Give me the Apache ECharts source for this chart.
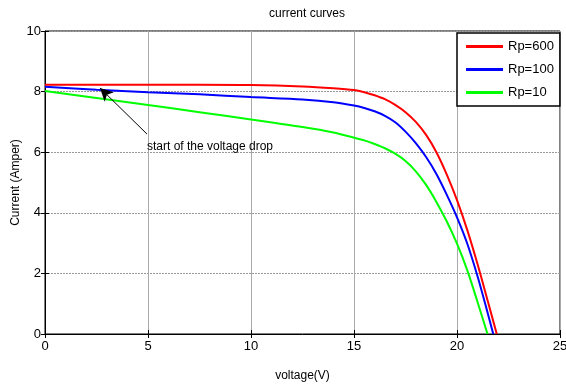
<!DOCTYPE html>
<html>
<head>
<meta charset="utf-8">
<script src="https://cdn.jsdelivr.net/npm/echarts@6/dist/echarts.min.js"></script>
<style>
  html, body { margin: 0; padding: 0; background: #fff; }
  #chart { width: 566px; height: 385px; }
</style>
</head>
<body>
<div id="chart"></div>
<script>
const vRed = [0, 2.5, 5, 7.5, 10, 12.5, 14, 15, 15.5, 16, 16.5, 17, 17.5, 18, 18.5, 19, 19.5, 20, 20.5, 21, 21.5, 21.93]
const iRed = [8.23, 8.23, 8.23, 8.23, 8.22, 8.17, 8.11, 8.05, 7.98, 7.88, 7.75, 7.56, 7.32, 7.0, 6.57, 6.0, 5.27, 4.42, 3.43, 2.3, 1.07, 0]

const vBlue = [0, 2.5, 5, 7.5, 10, 12.5, 14, 15, 15.5, 16, 16.5, 17, 17.5, 18, 18.5, 19, 19.5, 20, 20.5, 21, 21.4, 21.76]
const iBlue = [8.16, 8.06, 7.98, 7.91, 7.82, 7.74, 7.65, 7.54, 7.46, 7.35, 7.2, 6.99, 6.68, 6.3, 5.84, 5.28, 4.6, 3.85, 2.98, 1.9, 0.92, 0]

const vGreen = [0, 2.5, 5, 7.5, 10, 12.5, 14, 15, 15.5, 16, 16.5, 17, 17.5, 18, 18.5, 19, 19.5, 20, 20.5, 21, 21.48]
const iGreen = [8.02, 7.79, 7.56, 7.32, 7.08, 6.83, 6.65, 6.48, 6.39, 6.27, 6.13, 5.95, 5.71, 5.37, 4.92, 4.36, 3.72, 2.98, 2.1, 1.05, 0]

const seriesNames = ['Rp=600', 'Rp=100', 'Rp=10']
const arrowFrom = [4.95, 6.6]
const arrowTo = [2.67, 8.12]
const notePos = [4.95, 6.18]
const noteText = 'start of the voltage drop'

const font = 'Liberation Sans, Arial, sans-serif'

function pairs(xs, ys) {
  return xs.map((x, i) => [x, ys[i]])
}

const chart = echarts.init(document.getElementById('chart'))

const lineOpts = {
  type: 'line',
  showSymbol: false,
  smooth: 0.3,
  animation: false
}

const option = {
  backgroundColor: '#fff',
  textStyle: { fontFamily: font },
  title: {
    text: 'current curves',
    left: 302,
    textAlign: 'center',
    top: 3,
    textStyle: { fontSize: 12, fontWeight: 'normal', color: '#000', fontFamily: font }
  },
  grid: {
    left: 45, right: 6, top: 31, bottom: 51,
    containLabel: false,
    outerBoundsMode: 'none',
    show: true, borderColor: '#000', borderWidth: 1
  },
  legend: {
    orient: 'vertical',
    left: 457,
    top: 33,
    data: seriesNames,
    icon: 'rect',
    itemWidth: 37,
    itemHeight: 3,
    itemGap: 10,
    padding: [7, 6, 7, 9],
    backgroundColor: '#fff',
    borderColor: '#000',
    borderWidth: 1.5,
    borderRadius: 0,
    textStyle: { fontSize: 13, color: '#000', fontFamily: font }
  },
  xAxis: [{
    type: 'value',
    min: 0, max: 25, interval: 5,
    name: 'voltage(V)',
    nameLocation: 'middle',
    nameGap: 36,
    nameMoveOverlap: false,
    nameTextStyle: { fontSize: 12, color: '#000', fontFamily: font },
    axisLine: { lineStyle: { color: '#000' } },
    axisTick: { inside: true, length: 4, lineStyle: { color: '#000' } },
    axisLabel: { fontSize: 13, color: '#000', margin: 6 },
    splitLine: { show: true, lineStyle: { color: '#aaa', type: 'solid', width: 1 } }
  }, {
    type: 'value',
    position: 'top',
    min: 0, max: 25, interval: 5,
    axisLine: { show: false },
    axisTick: { inside: true, length: 4, lineStyle: { color: '#000' } },
    axisLabel: { show: false },
    splitLine: { show: false }
  }],
  yAxis: [{
    type: 'value',
    min: 0, max: 10, interval: 2,
    name: 'Current (Amper)',
    nameLocation: 'middle',
    nameGap: 23,
    nameMoveOverlap: false,
    nameTextStyle: { fontSize: 12, color: '#000', fontFamily: font },
    axisLine: { show: true, lineStyle: { color: '#000' } },
    axisTick: { show: true, inside: true, length: 4, lineStyle: { color: '#000' } },
    axisLabel: { fontSize: 13, color: '#000', margin: 4 },
    splitLine: { show: true, lineStyle: { color: '#999', type: [2, 1], width: 1 } }
  }, {
    type: 'value',
    position: 'right',
    min: 0, max: 10, interval: 2,
    axisLine: { show: false },
    axisTick: { show: true, inside: true, length: 4, lineStyle: { color: '#000' } },
    axisLabel: { show: false },
    splitLine: { show: false }
  }],
  series: [
    Object.assign({}, lineOpts, {
      name: seriesNames[0],
      data: pairs(vRed, iRed),
      itemStyle: { color: '#ff0000' },
      lineStyle: { color: '#ff0000', width: 2 },
      z: 4
    }),
    Object.assign({}, lineOpts, {
      name: seriesNames[1],
      data: pairs(vBlue, iBlue),
      itemStyle: { color: '#0000ff' },
      lineStyle: { color: '#0000ff', width: 2 },
      z: 3
    }),
    Object.assign({}, lineOpts, {
      name: seriesNames[2],
      data: pairs(vGreen, iGreen),
      itemStyle: { color: '#00ff00' },
      lineStyle: { color: '#00ff00', width: 2 },
      z: 2,
      markLine: {
        silent: true,
        animation: false,
        symbol: ['none', 'arrow'],
        symbolSize: [10, 13],
        label: { show: false },
        lineStyle: { color: '#000', width: 1, type: 'solid' },
        data: [[{ coord: arrowFrom }, { coord: arrowTo }]]
      },
      markPoint: {
        silent: true,
        animation: false,
        symbol: 'circle',
        symbolSize: 0,
        label: {
          show: true,
          position: 'right',
          distance: 0,
          formatter: noteText,
          color: '#000',
          fontSize: 12,
          fontFamily: font
        },
        data: [{ coord: notePos }]
      }
    })
  ]
}

chart.setOption(option)
</script>
</body>
</html>
